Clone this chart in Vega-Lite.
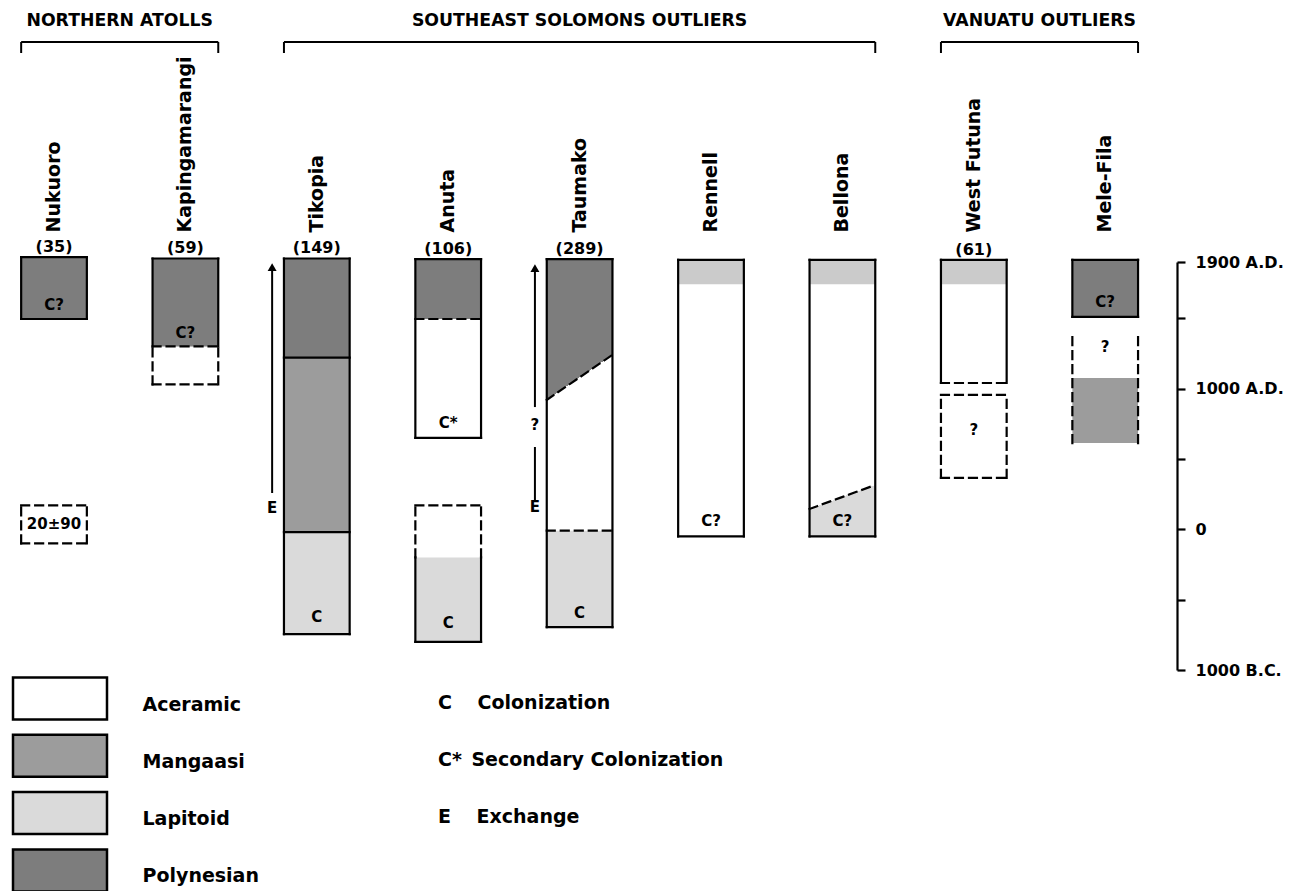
{
  "$schema": "https://vega.github.io/schema/vega-lite/v6.json",
  "width": 1177,
  "height": 408,
  "autosize": "none",
  "padding": {"left": 0, "top": 262, "right": 115, "bottom": 221},
  "background": "white",
  "config": {
    "view": {"stroke": null},
    "font": "DejaVu Sans",
    "text": {"font": "DejaVu Sans", "fontWeight": "bold", "color": "black"},
    "axisX": {"orient": "top", "title": null, "domain": false, "ticks": false, "tickSize": 0, "grid": false, "labelAngle": -90, "labelAlign": "left", "labelBaseline": "middle", "labelPadding": 30, "labelFont": "DejaVu Sans", "labelFontWeight": "bold", "labelFontSize": 19, "labelColor": "black", "labelLimit": 400},
    "axisY": {"orient": "right", "title": null, "grid": false, "domainColor": "black", "domainWidth": 2.2, "tickColor": "black", "tickWidth": 2.2, "tickSize": 8, "labelPadding": 10, "labelFont": "DejaVu Sans", "labelFontWeight": "bold", "labelFontSize": 16, "labelColor": "black", "labelAlign": "left", "labelBaseline": "middle", "labelFlush": false, "labelOverlap": false, "labelBound": false}
  },
  "datasets": {
    "segments": [
      {"island": "Nukuoro", "culture": "Polynesian", "from": 1495, "to": 1935, "trace": "no"},
      {"island": "Kapingamarangi", "culture": "Polynesian", "from": 1300, "to": 1925, "trace": "no"},
      {"island": "Tikopia", "culture": "Polynesian", "from": 1220, "to": 1925, "trace": "no"},
      {"island": "Tikopia", "culture": "Mangaasi", "from": -20, "to": 1220, "trace": "no"},
      {"island": "Tikopia", "culture": "Lapitoid", "from": -745, "to": -20, "trace": "no"},
      {"island": "Anuta", "culture": "Polynesian", "from": 1495, "to": 1920, "trace": "no"},
      {"island": "Anuta", "culture": "Aceramic", "from": 650, "to": 1495, "trace": "no"},
      {"island": "Anuta", "culture": "Lapitoid", "from": -800, "to": -200, "trace": "no"},
      {"island": "Taumako", "culture": "Polynesian", "from": 1232, "to": 1920, "trace": "no"},
      {"island": "Taumako", "culture": "Aceramic", "from": -10, "to": 1232, "trace": "no"},
      {"island": "Taumako", "culture": "Lapitoid", "from": -695, "to": -10, "trace": "no"},
      {"island": "Rennell", "culture": "Polynesian", "from": 1740, "to": 1915, "trace": "yes"},
      {"island": "Rennell", "culture": "Aceramic", "from": -50, "to": 1740, "trace": "no"},
      {"island": "Bellona", "culture": "Polynesian", "from": 1740, "to": 1915, "trace": "yes"},
      {"island": "Bellona", "culture": "Aceramic", "from": 150, "to": 1740, "trace": "no"},
      {"island": "Bellona", "culture": "Lapitoid", "from": -50, "to": 150, "trace": "no"},
      {"island": "West Futuna", "culture": "Polynesian", "from": 1740, "to": 1915, "trace": "yes"},
      {"island": "West Futuna", "culture": "Aceramic", "from": 1040, "to": 1740, "trace": "no"},
      {"island": "Mele-Fila", "culture": "Polynesian", "from": 1510, "to": 1915, "trace": "no"},
      {"island": "Mele-Fila", "culture": "Mangaasi", "from": 613, "to": 1075, "trace": "no"}
    ],
    "transitions": [
      {"island": "Taumako", "from": 920, "to": 1240, "above": "Polynesian", "below": "Aceramic"},
      {"island": "Bellona", "from": 145, "to": 315, "above": "Aceramic", "below": "Lapitoid"}
    ],
    "sides": [
      {"island": "Nukuoro", "from": 1495, "to": 1935, "dash": "solid"},
      {"island": "Nukuoro", "from": -100, "to": 170, "dash": "dashed"},
      {"island": "Kapingamarangi", "from": 1300, "to": 1925, "dash": "solid"},
      {"island": "Kapingamarangi", "from": 1030, "to": 1300, "dash": "dashed"},
      {"island": "Tikopia", "from": -745, "to": 1925, "dash": "solid"},
      {"island": "Anuta", "from": 650, "to": 1920, "dash": "solid"},
      {"island": "Anuta", "from": -200, "to": 170, "dash": "dashed"},
      {"island": "Anuta", "from": -800, "to": -200, "dash": "solid"},
      {"island": "Taumako", "from": -695, "to": 1920, "dash": "solid"},
      {"island": "Rennell", "from": -50, "to": 1915, "dash": "solid"},
      {"island": "Bellona", "from": -50, "to": 1915, "dash": "solid"},
      {"island": "West Futuna", "from": 1040, "to": 1915, "dash": "solid"},
      {"island": "West Futuna", "from": 365, "to": 955, "dash": "dashed"},
      {"island": "Mele-Fila", "from": 1510, "to": 1915, "dash": "solid"},
      {"island": "Mele-Fila", "from": 613, "to": 1380, "dash": "dashed"}
    ],
    "crosses": [
      {"island": "Nukuoro", "yl": 1935, "yr": 1935, "dash": "solid"},
      {"island": "Nukuoro", "yl": 1495, "yr": 1495, "dash": "solid"},
      {"island": "Nukuoro", "yl": 170, "yr": 170, "dash": "dashed"},
      {"island": "Nukuoro", "yl": -100, "yr": -100, "dash": "dashed"},
      {"island": "Kapingamarangi", "yl": 1925, "yr": 1925, "dash": "solid"},
      {"island": "Kapingamarangi", "yl": 1300, "yr": 1300, "dash": "dashed"},
      {"island": "Kapingamarangi", "yl": 1030, "yr": 1030, "dash": "dashed"},
      {"island": "Tikopia", "yl": 1925, "yr": 1925, "dash": "solid"},
      {"island": "Tikopia", "yl": 1220, "yr": 1220, "dash": "solid"},
      {"island": "Tikopia", "yl": -20, "yr": -20, "dash": "solid"},
      {"island": "Tikopia", "yl": -745, "yr": -745, "dash": "solid"},
      {"island": "Anuta", "yl": 1920, "yr": 1920, "dash": "solid"},
      {"island": "Anuta", "yl": 1495, "yr": 1495, "dash": "dashed"},
      {"island": "Anuta", "yl": 650, "yr": 650, "dash": "solid"},
      {"island": "Anuta", "yl": 170, "yr": 170, "dash": "dashed"},
      {"island": "Anuta", "yl": -800, "yr": -800, "dash": "solid"},
      {"island": "Taumako", "yl": 1920, "yr": 1920, "dash": "solid"},
      {"island": "Taumako", "yl": 920, "yr": 1240, "dash": "dashed"},
      {"island": "Taumako", "yl": -10, "yr": -10, "dash": "dashed"},
      {"island": "Taumako", "yl": -695, "yr": -695, "dash": "solid"},
      {"island": "Rennell", "yl": 1915, "yr": 1915, "dash": "solid"},
      {"island": "Rennell", "yl": -50, "yr": -50, "dash": "solid"},
      {"island": "Bellona", "yl": 1915, "yr": 1915, "dash": "solid"},
      {"island": "Bellona", "yl": 145, "yr": 315, "dash": "dashed"},
      {"island": "Bellona", "yl": -50, "yr": -50, "dash": "solid"},
      {"island": "West Futuna", "yl": 1915, "yr": 1915, "dash": "solid"},
      {"island": "West Futuna", "yl": 1040, "yr": 1040, "dash": "dashed"},
      {"island": "West Futuna", "yl": 955, "yr": 955, "dash": "dashed"},
      {"island": "West Futuna", "yl": 365, "yr": 365, "dash": "dashed"},
      {"island": "Mele-Fila", "yl": 1915, "yr": 1915, "dash": "solid"},
      {"island": "Mele-Fila", "yl": 1510, "yr": 1510, "dash": "solid"}
    ],
    "arrows": [
      {"island": "Tikopia", "from": 258, "to": 1864, "head": "yes"},
      {"island": "Taumako", "from": 869, "to": 1857, "head": "yes"},
      {"island": "Taumako", "from": 208, "to": 585, "head": "no"}
    ],
    "notes": [
      {"island": "Nukuoro", "year": 1595, "label": "C?", "meaning": "Colonization"},
      {"island": "Nukuoro", "year": 35, "label": "20±90", "meaning": "Date"},
      {"island": "Kapingamarangi", "year": 1395, "label": "C?", "meaning": "Colonization"},
      {"island": "Tikopia", "year": -625, "label": "C", "meaning": "Colonization"},
      {"island": "Anuta", "year": 755, "label": "C*", "meaning": "Secondary Colonization"},
      {"island": "Anuta", "year": -665, "label": "C", "meaning": "Colonization"},
      {"island": "Taumako", "year": -595, "label": "C", "meaning": "Colonization"},
      {"island": "Rennell", "year": 60, "label": "C?", "meaning": "Colonization"},
      {"island": "Bellona", "year": 60, "label": "C?", "meaning": "Colonization"},
      {"island": "West Futuna", "year": 706, "label": "?", "meaning": "Uncertain"},
      {"island": "Mele-Fila", "year": 1615, "label": "C?", "meaning": "Colonization"},
      {"island": "Mele-Fila", "year": 1296, "label": "?", "meaning": "Uncertain"}
    ],
    "arrowNotes": [
      {"island": "Tikopia", "year": 151, "label": "E", "meaning": "Exchange"},
      {"island": "Taumako", "year": 159, "label": "E", "meaning": "Exchange"},
      {"island": "Taumako", "year": 741, "label": "?", "meaning": "Uncertain"}
    ],
    "counts": [
      {"island": "Nukuoro", "top": 1935, "count": "(35)"},
      {"island": "Kapingamarangi", "top": 1925, "count": "(59)"},
      {"island": "Tikopia", "top": 1925, "count": "(149)"},
      {"island": "Anuta", "top": 1920, "count": "(106)"},
      {"island": "Taumako", "top": 1920, "count": "(289)"},
      {"island": "West Futuna", "top": 1915, "count": "(61)"}
    ],
    "groups": [
      {"group": "NORTHERN ATOLLS", "first": "Nukuoro", "last": "Kapingamarangi", "mid": "Taumako"},
      {"group": "SOUTHEAST SOLOMONS OUTLIERS", "first": "Tikopia", "last": "Bellona", "mid": "Taumako"},
      {"group": "VANUATU OUTLIERS", "first": "West Futuna", "last": "Mele-Fila", "mid": "Taumako"}
    ]
  },
  "layer": [
    {
      "data": {"name": "segments"},
      "mark": {"type": "rect", "strokeWidth": 0},
      "encoding": {
        "x": {
          "field": "island", "type": "nominal", "title": null,
          "scale": {"domain": ["Nukuoro", "Kapingamarangi", "Tikopia", "Anuta", "Taumako", "Rennell", "Bellona", "West Futuna", "Mele-Fila"], "paddingInner": 0.5, "paddingOuter": 0.2287, "align": 0.352},
          "axis": {"orient": "top", "title": null}
        },
        "y": {
          "field": "from", "type": "quantitative", "title": null,
          "scale": {"domain": [-1000, 1900], "nice": false, "zero": false},
          "axis": {"orient": "right", "title": null, "values": [1900, 1500, 1000, 500, 0, -500, -1000], "labelExpr": "datum.value == 1900 ? '1900 A.D.' : datum.value == 1000 ? '1000 A.D.' : datum.value == 0 ? '0' : datum.value == -1000 ? '1000 B.C.' : ''"}
        },
        "y2": {"field": "to"},
        "fill": {
          "field": "culture", "type": "nominal",
          "scale": {"domain": ["Aceramic", "Mangaasi", "Lapitoid", "Polynesian"], "range": ["#ffffff", "#9c9c9c", "#dadada", "#7d7d7d"]},
          "legend": {"orient": "none", "legendX": 37.5, "legendY": 420, "title": null, "direction": "vertical", "padding": 0, "symbolType": "M-2.238,-1.286H2.238V0.714H-2.238Z", "symbolSize": 1764, "symbolStrokeColor": "black", "symbolStrokeWidth": 2.5, "symbolOpacity": 1, "labelFont": "DejaVu Sans", "labelFontWeight": "bold", "labelFontSize": 19, "labelColor": "black", "labelOffset": 60, "rowPadding": 4.3, "labelLimit": 0}
        },
        "fillOpacity": {"field": "trace", "type": "nominal", "scale": {"domain": ["no", "yes"], "range": [1, 0.4]}, "legend": null}
      }
    },
    {
      "data": {"name": "transitions"},
      "transform": [{"filter": "datum.above == 'Polynesian'"}],
      "mark": {"type": "rect", "strokeWidth": 0, "fill": {"gradient": "linear", "x1": 0, "y1": 0, "x2": 1, "y2": 1, "stops": [{"offset": 0, "color": "#7d7d7d"}, {"offset": 0.5, "color": "#7d7d7d"}, {"offset": 0.5, "color": "#ffffff"}, {"offset": 1, "color": "#ffffff"}]}},
      "encoding": {
        "x": {"field": "island", "type": "nominal", "title": null, "scale": {"domain": ["Nukuoro", "Kapingamarangi", "Tikopia", "Anuta", "Taumako", "Rennell", "Bellona", "West Futuna", "Mele-Fila"], "paddingInner": 0.5, "paddingOuter": 0.2287, "align": 0.352}},
        "y": {"field": "from", "type": "quantitative", "title": null, "scale": {"domain": [-1000, 1900], "nice": false, "zero": false}},
        "y2": {"field": "to"}
      }
    },
    {
      "data": {"name": "transitions"},
      "transform": [{"filter": "datum.below == 'Lapitoid'"}],
      "mark": {"type": "rect", "strokeWidth": 0, "fill": {"gradient": "linear", "x1": 0, "y1": 0, "x2": 1, "y2": 1, "stops": [{"offset": 0, "color": "#ffffff"}, {"offset": 0.5, "color": "#ffffff"}, {"offset": 0.5, "color": "#dadada"}, {"offset": 1, "color": "#dadada"}]}},
      "encoding": {
        "x": {"field": "island", "type": "nominal", "title": null, "scale": {"domain": ["Nukuoro", "Kapingamarangi", "Tikopia", "Anuta", "Taumako", "Rennell", "Bellona", "West Futuna", "Mele-Fila"], "paddingInner": 0.5, "paddingOuter": 0.2287, "align": 0.352}},
        "y": {"field": "from", "type": "quantitative", "title": null, "scale": {"domain": [-1000, 1900], "nice": false, "zero": false}},
        "y2": {"field": "to"}
      }
    },
    {
      "data": {"name": "crosses"},
      "mark": {"type": "rule", "color": "black", "strokeWidth": 2.2, "strokeCap": "square"},
      "encoding": {
        "x": {"field": "island", "type": "nominal", "title": null, "bandPosition": 0, "scale": {"domain": ["Nukuoro", "Kapingamarangi", "Tikopia", "Anuta", "Taumako", "Rennell", "Bellona", "West Futuna", "Mele-Fila"], "paddingInner": 0.5, "paddingOuter": 0.2287, "align": 0.352}},
        "x2": {"field": "island", "bandPosition": 1},
        "y": {"field": "yl", "type": "quantitative", "title": null, "scale": {"domain": [-1000, 1900], "nice": false, "zero": false}},
        "y2": {"field": "yr"},
        "strokeDash": {"field": "dash", "type": "nominal", "scale": {"domain": ["solid", "dashed"], "range": [[1, 0], [8, 6]]}, "legend": null}
      }
    },
    {
      "data": {"name": "sides"},
      "mark": {"type": "rule", "color": "black", "strokeWidth": 2.2, "strokeCap": "square"},
      "encoding": {
        "x": {"field": "island", "type": "nominal", "title": null, "bandPosition": 0, "scale": {"domain": ["Nukuoro", "Kapingamarangi", "Tikopia", "Anuta", "Taumako", "Rennell", "Bellona", "West Futuna", "Mele-Fila"], "paddingInner": 0.5, "paddingOuter": 0.2287, "align": 0.352}},
        "y": {"field": "from", "type": "quantitative", "title": null, "scale": {"domain": [-1000, 1900], "nice": false, "zero": false}},
        "y2": {"field": "to"},
        "strokeDash": {"field": "dash", "type": "nominal", "scale": {"domain": ["solid", "dashed"], "range": [[1, 0], [8, 6]]}, "legend": null}
      }
    },
    {
      "data": {"name": "sides"},
      "mark": {"type": "rule", "color": "black", "strokeWidth": 2.2, "strokeCap": "square"},
      "encoding": {
        "x": {"field": "island", "type": "nominal", "title": null, "bandPosition": 1, "scale": {"domain": ["Nukuoro", "Kapingamarangi", "Tikopia", "Anuta", "Taumako", "Rennell", "Bellona", "West Futuna", "Mele-Fila"], "paddingInner": 0.5, "paddingOuter": 0.2287, "align": 0.352}},
        "y": {"field": "from", "type": "quantitative", "title": null, "scale": {"domain": [-1000, 1900], "nice": false, "zero": false}},
        "y2": {"field": "to"},
        "strokeDash": {"field": "dash", "type": "nominal", "scale": {"domain": ["solid", "dashed"], "range": [[1, 0], [8, 6]]}, "legend": null}
      }
    },
    {
      "data": {"name": "arrows"},
      "mark": {"type": "rule", "color": "black", "strokeWidth": 2},
      "encoding": {
        "x": {"field": "island", "type": "nominal", "title": null, "bandPosition": -0.18, "scale": {"domain": ["Nukuoro", "Kapingamarangi", "Tikopia", "Anuta", "Taumako", "Rennell", "Bellona", "West Futuna", "Mele-Fila"], "paddingInner": 0.5, "paddingOuter": 0.2287, "align": 0.352}},
        "y": {"field": "from", "type": "quantitative", "title": null, "scale": {"domain": [-1000, 1900], "nice": false, "zero": false}},
        "y2": {"field": "to"}
      }
    },
    {
      "data": {"name": "arrows"},
      "transform": [{"filter": "datum.head == 'yes'"}],
      "mark": {"type": "point", "shape": "triangle-up", "filled": true, "color": "black", "size": 80, "opacity": 1},
      "encoding": {
        "x": {"field": "island", "type": "nominal", "title": null, "bandPosition": -0.18, "scale": {"domain": ["Nukuoro", "Kapingamarangi", "Tikopia", "Anuta", "Taumako", "Rennell", "Bellona", "West Futuna", "Mele-Fila"], "paddingInner": 0.5, "paddingOuter": 0.2287, "align": 0.352}},
        "y": {"field": "to", "type": "quantitative", "title": null, "scale": {"domain": [-1000, 1900], "nice": false, "zero": false}}
      }
    },
    {
      "data": {"name": "notes"},
      "mark": {"type": "text", "fontSize": 15, "fontWeight": "bold", "baseline": "middle", "align": "center"},
      "encoding": {
        "x": {"field": "island", "type": "nominal", "title": null, "scale": {"domain": ["Nukuoro", "Kapingamarangi", "Tikopia", "Anuta", "Taumako", "Rennell", "Bellona", "West Futuna", "Mele-Fila"], "paddingInner": 0.5, "paddingOuter": 0.2287, "align": 0.352}},
        "y": {"field": "year", "type": "quantitative", "title": null, "scale": {"domain": [-1000, 1900], "nice": false, "zero": false}},
        "text": {"field": "label"},
        "color": {
          "field": "meaning", "type": "nominal",
          "scale": {"domain": ["Colonization", "Secondary Colonization", "Exchange", "Uncertain", "Date"], "range": ["black", "black", "black", "black", "black"]},
          "legend": {"orient": "none", "legendX": 419, "legendY": 431, "title": null, "direction": "vertical", "padding": 0, "values": ["Colonization", "Secondary Colonization", "Exchange"], "labelExpr": "datum.label == 'Colonization' ? 'C\u2002\u2002 Colonization' : datum.label == 'Exchange' ? 'E\u2002\u2002 Exchange' : 'C*\u2002Secondary Colonization'", "symbolOpacity": 0, "symbolSize": 1, "symbolStrokeWidth": 0, "labelOffset": 0, "labelFont": "DejaVu Sans", "labelFontWeight": "bold", "labelFontSize": 19, "labelColor": "black", "rowPadding": 37, "labelLimit": 0}
        }
      }
    },
    {
      "data": {"name": "arrowNotes"},
      "mark": {"type": "text", "fontSize": 15, "fontWeight": "bold", "baseline": "middle", "align": "center"},
      "encoding": {
        "x": {"field": "island", "type": "nominal", "title": null, "bandPosition": -0.18, "scale": {"domain": ["Nukuoro", "Kapingamarangi", "Tikopia", "Anuta", "Taumako", "Rennell", "Bellona", "West Futuna", "Mele-Fila"], "paddingInner": 0.5, "paddingOuter": 0.2287, "align": 0.352}},
        "y": {"field": "year", "type": "quantitative", "title": null, "scale": {"domain": [-1000, 1900], "nice": false, "zero": false}},
        "text": {"field": "label"},
        "color": {"field": "meaning", "type": "nominal"}
      }
    },
    {
      "data": {"name": "counts"},
      "mark": {"type": "text", "fontSize": 16, "fontWeight": "bold", "baseline": "middle", "align": "center", "dy": -10, "color": "black"},
      "encoding": {
        "x": {"field": "island", "type": "nominal", "title": null, "scale": {"domain": ["Nukuoro", "Kapingamarangi", "Tikopia", "Anuta", "Taumako", "Rennell", "Bellona", "West Futuna", "Mele-Fila"], "paddingInner": 0.5, "paddingOuter": 0.2287, "align": 0.352}},
        "y": {"field": "top", "type": "quantitative", "title": null, "scale": {"domain": [-1000, 1900], "nice": false, "zero": false}},
        "text": {"field": "count"}
      }
    },
    {
      "data": {"name": "groups"},
      "mark": {"type": "rule", "color": "black", "strokeWidth": 2, "yOffset": -220},
      "encoding": {
        "x": {"field": "first", "type": "nominal", "title": null, "bandPosition": 0, "scale": {"domain": ["Nukuoro", "Kapingamarangi", "Tikopia", "Anuta", "Taumako", "Rennell", "Bellona", "West Futuna", "Mele-Fila"], "paddingInner": 0.5, "paddingOuter": 0.2287, "align": 0.352}},
        "x2": {"field": "last", "bandPosition": 1},
        "y": {"datum": 1900, "type": "quantitative", "title": null, "scale": {"domain": [-1000, 1900], "nice": false, "zero": false}}
      }
    },
    {
      "data": {"name": "groups"},
      "mark": {"type": "rule", "color": "black", "strokeWidth": 2, "yOffset": -220, "y2Offset": -209},
      "encoding": {
        "x": {"field": "first", "type": "nominal", "title": null, "bandPosition": 0, "scale": {"domain": ["Nukuoro", "Kapingamarangi", "Tikopia", "Anuta", "Taumako", "Rennell", "Bellona", "West Futuna", "Mele-Fila"], "paddingInner": 0.5, "paddingOuter": 0.2287, "align": 0.352}},
        "y": {"datum": 1900, "type": "quantitative", "title": null, "scale": {"domain": [-1000, 1900], "nice": false, "zero": false}},
        "y2": {"datum": 1900}
      }
    },
    {
      "data": {"name": "groups"},
      "mark": {"type": "rule", "color": "black", "strokeWidth": 2, "yOffset": -220, "y2Offset": -209},
      "encoding": {
        "x": {"field": "last", "type": "nominal", "title": null, "bandPosition": 1, "scale": {"domain": ["Nukuoro", "Kapingamarangi", "Tikopia", "Anuta", "Taumako", "Rennell", "Bellona", "West Futuna", "Mele-Fila"], "paddingInner": 0.5, "paddingOuter": 0.2287, "align": 0.352}},
        "y": {"datum": 1900, "type": "quantitative", "title": null, "scale": {"domain": [-1000, 1900], "nice": false, "zero": false}},
        "y2": {"datum": 1900}
      }
    },
    {
      "data": {"name": "groups"},
      "transform": [{"filter": "datum.group != 'SOUTHEAST SOLOMONS OUTLIERS'"}],
      "mark": {"type": "text", "fontSize": 17.3, "fontWeight": "bold", "baseline": "middle", "align": "center", "dy": -241, "color": "black"},
      "encoding": {
        "x": {"field": "first", "type": "nominal", "title": null, "bandPosition": 1.5, "scale": {"domain": ["Nukuoro", "Kapingamarangi", "Tikopia", "Anuta", "Taumako", "Rennell", "Bellona", "West Futuna", "Mele-Fila"], "paddingInner": 0.5, "paddingOuter": 0.2287, "align": 0.352}},
        "y": {"datum": 1900, "type": "quantitative", "title": null, "scale": {"domain": [-1000, 1900], "nice": false, "zero": false}},
        "text": {"field": "group"}
      }
    },
    {
      "data": {"name": "groups"},
      "transform": [{"filter": "datum.group == 'SOUTHEAST SOLOMONS OUTLIERS'"}],
      "mark": {"type": "text", "fontSize": 17.3, "fontWeight": "bold", "baseline": "middle", "align": "center", "dy": -241, "color": "black"},
      "encoding": {
        "x": {"field": "mid", "type": "nominal", "title": null, "bandPosition": 0.5, "scale": {"domain": ["Nukuoro", "Kapingamarangi", "Tikopia", "Anuta", "Taumako", "Rennell", "Bellona", "West Futuna", "Mele-Fila"], "paddingInner": 0.5, "paddingOuter": 0.2287, "align": 0.352}},
        "y": {"datum": 1900, "type": "quantitative", "title": null, "scale": {"domain": [-1000, 1900], "nice": false, "zero": false}},
        "text": {"field": "group"}
      }
    }
  ]
}
